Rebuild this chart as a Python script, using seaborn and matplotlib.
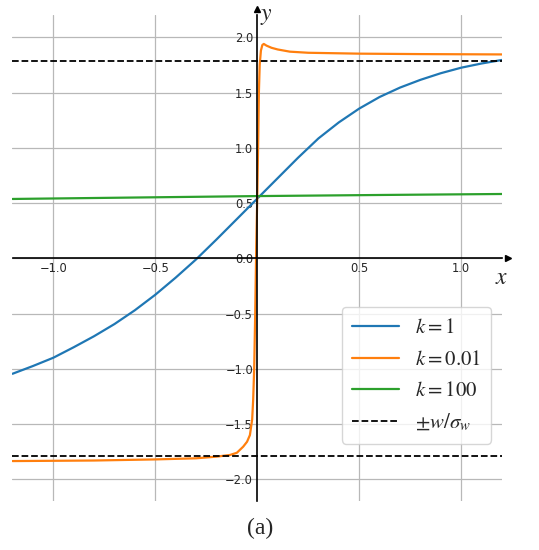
import numpy as np
import pandas as pd
import matplotlib
matplotlib.use("Agg")
import matplotlib.pyplot as plt
import seaborn as sns

# values
x_k1 = [-1.2, -1.1, -1.0, -0.9, -0.8, -0.7, -0.6, -0.5, -0.4, -0.3, -0.2, -0.1,
        0.0, 0.1, 0.2, 0.3, 0.4, 0.5, 0.6, 0.7, 0.8, 0.9, 1.0, 1.1, 1.2]
y_k1 = [-1.045, -0.975, -0.90, -0.805, -0.705, -0.595, -0.47, -0.33, -0.175, -0.01,
        0.17, 0.355, 0.54, 0.725, 0.91, 1.085, 1.23, 1.355, 1.46, 1.545, 1.615, 1.675,
        1.725, 1.763, 1.795]

x_k001 = [-1.2, -0.8, -0.5, -0.3, -0.2, -0.134, -0.1, -0.069, -0.05, -0.036, -0.025,
          -0.02, -0.015, -0.01, -0.005, 0.0, 0.005, 0.008, 0.012, 0.018, 0.025, 0.032,
          0.045, 0.07, 0.1, 0.16, 0.25, 0.5, 0.8, 1.2]
y_k001 = [-1.835, -1.83, -1.82, -1.81, -1.795, -1.78, -1.76, -1.705, -1.66, -1.6, -1.46,
          -1.28, -1.0, -0.5, 0.1, 0.55, 1.1, 1.5, 1.75, 1.88, 1.93, 1.94,
          1.925, 1.905, 1.89, 1.87, 1.86, 1.852, 1.848, 1.845]

x_k100 = [-1.2, -0.6, 0.0, 0.6, 1.2]
y_k100 = [0.537, 0.55, 0.563, 0.573, 0.582]

bound = 1.789  # w / sigma_w

xticks = [-1.0, -0.5, 0.5, 1.0]
yticks = [-2.0, -1.5, -1.0, -0.5, 0.0, 0.5, 1.0, 1.5, 2.0]

sns.set_style("white")
plt.rcParams['mathtext.fontset'] = 'stix'
colors = sns.color_palette("tab10")

fig = plt.figure(figsize=(5.39, 5.5), dpi=100)
ax = fig.add_axes([12.5 / 539, 48.6 / 550, 489.5 / 539, 486.2 / 550])

sns.lineplot(x=x_k1, y=y_k1, ax=ax, color=colors[0], lw=1.6, label=r'$k=1$')
sns.lineplot(x=x_k001, y=y_k001, ax=ax, color=colors[1], lw=1.6, label=r'$k=0.01$')
sns.lineplot(x=x_k100, y=y_k100, ax=ax, color=colors[2], lw=1.6, label=r'$k=100$')
ax.axhline(bound, color='black', ls='--', lw=1.3, label=r'$\pm w/\sigma_w$')
ax.axhline(-bound, color='black', ls='--', lw=1.3)

ax.set_xlim(-1.2, 1.2)
ax.set_ylim(-2.2, 2.2)
ax.set_xticks(xticks)
ax.set_yticks(yticks)
ax.tick_params(labelsize=8.3, length=4, width=0.8, direction='inout', color='#333333',
               pad=1)
ax.grid(True, color='#b8b8b8', lw=0.9)
ax.set_axisbelow(True)

# spines through the origin
for s in ['top', 'right']:
    ax.spines[s].set_visible(False)
ax.spines['left'].set_position(('data', 0))
ax.spines['bottom'].set_position(('data', 0))
for s in ['left', 'bottom']:
    ax.spines[s].set_color('black')
    ax.spines[s].set_linewidth(1.2)

# arrow heads
ax.plot(1.012, 0, '>k', ms=5, transform=ax.get_yaxis_transform(), clip_on=False)
ax.plot(0, 1.012, '^k', ms=5, transform=ax.get_xaxis_transform(), clip_on=False)

ax.text(1.0, -0.06, r'$x$', fontsize=17, transform=ax.get_yaxis_transform(),
        ha='center', va='top')
ax.text(0.012, 1.0, r'$y$', fontsize=17, transform=ax.get_xaxis_transform(),
        ha='left', va='center')

ax.set_xlabel('')
ax.set_ylabel('')
leg = ax.legend(loc='upper left', bbox_to_anchor=(342 / 539, 1 - 307 / 550),
                bbox_transform=fig.transFigure, borderaxespad=0, fontsize=15,
                handlelength=2.25, frameon=True, borderpad=0.5, labelspacing=0.55,
                handletextpad=0.75, framealpha=0.8)
leg.get_frame().set_edgecolor('#cccccc')

fig.text(260 / 539, 1 - 528 / 550, '(a)', fontsize=17, family='Liberation Serif',
         ha='center', va='center')

fig.savefig('out.png', dpi=100)
